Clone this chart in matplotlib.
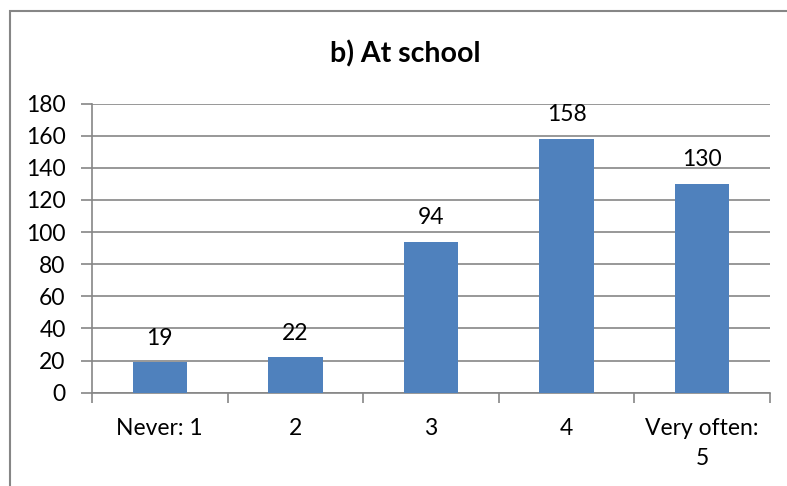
import numpy as np
import matplotlib.pyplot as plt
from matplotlib.patches import Rectangle

categories = ['Never: 1', '2', '3', '4', 'Very often:\n5']
counts = [19, 22, 94, 158, 130]
yticks = list(range(0, 181, 20))

plt.rcParams['font.family'] = ['Lato', 'DejaVu Sans']
grey = '#868686'
blue = '#4f81bd'
fs = 16.5

fig = plt.figure(figsize=(7.87, 4.86), dpi=100)
ax = fig.add_axes([92/787, 1 - 392.7/486, 678/787, (392.7 - 103.5)/486])

x = np.arange(len(categories))
ax.bar(x, counts, width=0.4, color=blue, zorder=3)
for xi, v in zip(x, counts):
    ax.annotate(str(v), (xi, v), xytext=(0, 12.5), textcoords='offset points',
                ha='center', va='baseline', fontsize=fs)

ax.set_xlim(-0.5, len(categories) - 0.5)
ax.set_ylim(0, 180)
ax.set_yticks(yticks)
ax.yaxis.grid(True, color=grey, linewidth=1.2)
ax.set_axisbelow(True)

ax.set_xticks(x)
ax.set_xticklabels(categories, fontsize=fs, linespacing=1.55)
ax.set_xticks(np.arange(-0.5, len(categories)), minor=True)
ax.tick_params(axis='x', which='major', length=0, pad=18)
ax.tick_params(axis='x', which='minor', length=7, color=grey, width=1.2)
ax.tick_params(axis='y', length=8, color=grey, width=1.2, labelsize=fs, pad=11)

for side in ['top', 'right']:
    ax.spines[side].set_visible(False)
for side in ['left', 'bottom']:
    ax.spines[side].set_color(grey)
    ax.spines[side].set_linewidth(1.2)

fig.text(405/787, 1 - 62/486, 'b) At school', fontsize=20.5, fontweight='bold',
         ha='center', va='baseline')

# chart frame, running off the right and bottom edges
fig.patches.append(Rectangle((10/787, -0.1), 1.0, 1 - 11/486 + 0.1,
                             transform=fig.transFigure, fill=False,
                             edgecolor=grey, linewidth=1.5))

fig.savefig('out.png', dpi=100)
